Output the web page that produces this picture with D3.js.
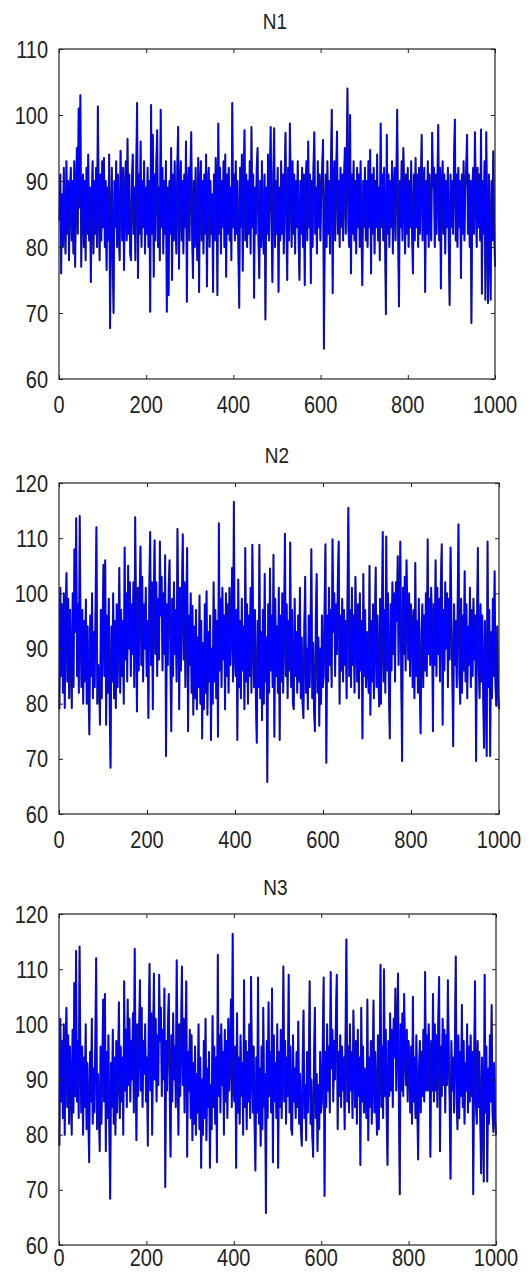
<!DOCTYPE html>
<html>
<head>
<meta charset="utf-8">
<script src="https://cdn.jsdelivr.net/npm/d3@7"></script>
<style>
  body { margin: 0; background: #fff; }
  text { font-family: "Liberation Sans", Arial, Helvetica, sans-serif; fill: #222; }
</style>
</head>
<body>
<svg id="chart" width="531" height="1279"></svg>
<script>
// values, one every two samples (500 per series)
const n1 = [
  84,91,76,88,80,92,83,79,93,82,90,78,88,92,81,90,79,93,77,88,95,82,101,86,103,
  77,88,91,80,90,78,92,82,94,81,89,74.7,87,93,79,90,82,92,80,101.3,88,78,91,81,93,
  83,93.5,80,90,76.5,89,81,94,67.7,82,92,79,70,90,83,93,80,91,82,78,94.6,88,81,92,76.5,
  88,93,81,96.4,82,91,79,78,90,94,82,89,78,92,101.8,75.3,91,82,96,80,90,83,93,79,89,
  82,92,80,90,70.2,101.5,82,97,75.5,91,81,93,97.7,80,89,78,100.8,83,92,79,90,82,93,70.2,89,
  72.7,90,82,95,75,91,81,93,83,79,92,98.2,76.7,89,93,81,90,79,91,83,96,71.7,89,92,81,
  91,97.4,82,75.3,90,80,92,83,78,93.5,73.2,89,93,81,90,79,91,82,94,74,89,92,80,90,82,
  88,73.2,91,81,93.5,89,72.7,98.7,82,92,79,90,83,93,80,94,75.5,91,82,92,81,89,78,101.8,83,
  91,81,93,82,90,79,70.8,92,83,94,76.4,89,97.7,81,91,80,90,82,93,79,98.2,83,91,72.3,89,
  82,92,95,81,75.3,90,80,93,83,79,91,69,89,82,94,81,90,98.2,83,74.7,91,98,80,90,82,
  92,73.2,89,81,93,82,91,79,90,97.3,83,75,92,81,98.7,89,80,93,82,91,79,90,83,93,81,
  75,90,82,92,80,91,74.2,89,93,81,96,83,91,74.5,90,80,92,97.4,82,89,79,93,83,91,81,
  89,92,96.2,64.6,83,91,80,93,82,90,79,92,100.8,73,89,93,81,91,97.5,82,90,80,92,83,91,
  81,90,95,82,92,104,83,80,100,76,91,82,93,81,90,79,92,83,91,80,93,82,74.2,90,83,
  92,81,90,80,93,83,94.7,76,91,82,92,79,90,83,94,81,89,78,98.7,83,91,81,92,82,69.8,
  97,82,91,80,90,83,93,79,89,92,81,91,100.8,82,71,90,83,93,81,95,89,79,91,82,92,
  80,90,83,93,82,76,91,81,93.5,83,91,80,92,82,90,97,81,89,92,73.2,90,82,93,80,91,
  83,81,97.3,89,92,80,91,82,90,98.5,81,92,73.7,89,93,82,91,79,90,83,92,81,71.2,91,83,
  90,82,93,99.3,81,91,80,92,83,90,75.3,91,82,93,81,89,92,97,82,91,80,90,68.5,89,92,
  82,97.4,89,80,92,83,91,81,97.8,72.9,90,82,93,72,97.4,83,71.5,91,82,72,90,81,94.5,83,77
]

const n2 = [
  79,101,85,98,82,100,79.2,96,103.7,84,99,81,97,87,79.2,100,83,108,93,113.6,85,98,82,114,94,
  83,97,80,95,84,98.9,80,94,82,74.4,96,85,100,81,93,83,98,112,80,87,84,76.2,97,81,94,
  105.2,85,106,76.2,96,82,99,80,68.4,94,84,100,81,95,79.2,98,83,93,104.6,82,97,85,95,80,108.3,
  88,100,84,105,90,102,85,98,89,102,83,113.8,95,78.6,101,86,99,108.5,87,103,84,98,90,101,85,
  95,77.4,101,111.1,87,102,79,98,109.6,89,102,85,99,88,109.4,96,103,86,100,89,106.9,70.5,98,87,101,
  106,87,75,99,85,102,89,97,84,111.7,95,79,101,86,99,110.7,88,102,83,98,108.2,75,96,87,100,
  82,97.7,78,94,81,97,79,92,83,99.6,80,95,73.7,91,79,98,82,100.4,78,93,84,96,73.4,90,80,
  102,84,97,81,95,74,112.7,86,99,83,101,88,96,79,100,85,98,82,101,87,95,104.6,84,116.6,89,
  85,97,73.4,102.5,83,95,81,99,86,94,79,108.2,84,98,80,96,85,101,82,108.8,92,83,97,81,72.9,
  95,83,108.8,81,93,77,97,80,103.5,84,92,65.8,98,82,104.5,86,96,83,107,74,99,85,94,82,101,
  73.4,96,84,100,82,94,110.8,85,98,81,95,86,109.2,83,97,80,79,99,85,93,82,96,84,101,81,
  92,80,77.4,94,103,82,90,79,96,83,93,108,81,91,79,75,95,103.5,82,92,76,90,80,96,83,
  85,98,108.9,69.3,96,84,101,87,97,83,109.8,93,100,85,98,89,102,109.4,80,96,86,99,84,97,87,
  95,81,99,115.5,85,97,83,101,87,96,82,103,94,84,98,81,100,86,95,73.7,103.5,85,97,83,93,
  87,82,105,78,95,84,98,81,93,104.7,83,96,85,79.5,99,80,94,111.1,84,97,82,110.3,86,100,83,
  73.7,98,86,102,89,100,84,102,95,106.7,87,99,109.4,85,69.6,101,89,103,86,106,96,88,100,85,98,
  94,83,97,81,105.5,85,95,82,99,84,74.6,93,98,83,96,86,100,85,109.8,89,99,87,101,95,75,
  98,87,106,85,101,89,99,84,102,108.9,76.2,97,86,102,90,100,83,99,88,108.3,96,85,72.3,98,87,
  95,83,97,112.5,85,80,99,82,96,86,104,84,98,81,94,87,101,83,97,85,99,88,96,69.6,94,
  108.2,87,81,98,84,96,82,72,95,85,70.5,109.4,83,97,70.5,93,81,99,85,104,83,79.6,94,82,79
]

const n3 = [
  78,101,86,97,83,100,80,95,103,85,98,82,96,88,80,99,84,107.5,87,113.3,86,97,83,114.1,93,
  84,96,80,94,85,100,81,93,83,75,95,86,101,82,92,84,97,112,81,91,85,77,96,82,93,
  104.5,86,105.5,77,95,83,98,81,68.4,93,85,99,82,94,80,97,84,92,104,83,96,86,94,80,107.8,
  88,99,85,104.5,89,101,86,97,90,102,84,113.7,94,79,100,87,98,108,88,103,85,97,91,100,86,
  94,78,100,111,88,102,80,97,109.2,90,101,86,98,89,109,97,103,87,99,90,106.5,70.5,97,88,100,
  105.5,88,76,98,86,102,90,96,85,111.6,94,80,100,87,98,110.5,89,101,84,97,107.8,76,95,88,99,
  83,98,79,93,82,96,80,91,84,100,81,94,74,90,80,97,83,101,79,92,85,95,74,89,81,
  101.5,85,96,82,94,75,112.6,87,98,84,100,89,95,80,99,86,97,83,101,88,94,104.5,85,116.4,88,
  86,96,74,102,84,94,82,98,87,93,80,108,85,97,81,95,86,100,83,108.6,93,84,96,82,73.5,
  94,84,108.5,82,92,78,96,81,103,85,91,65.8,97,83,104,87,95,84,106.5,75,98,86,93,83,100,
  74,95,85,99,83,93,110.5,86,97,82,94,87,109,84,96,81,80,98,86,92,83,95,85,100.5,82,
  91,81,78,93,102.5,83,89,79,95,84,92,107.8,82,90,80,76,94,103,83,91,77,89,81,95,84,
  86,97,108.5,68.9,95,85,100,88,96,84,109.5,92,99,86,97,90,101,109,81,95,87,98,85,96,88,
  94,81,98,115.4,86,96,84,100,88,95,83,102.5,93,85,97,82,99,87,94,74.5,103,86,96,84,92,
  86,83,104.5,79,94,85,97,82,92,104.3,84,95,86,80,98,81,93,110.8,85,96,83,110,87,99,84,
  74.5,97,87,102,88,99,85,101,94,106.5,88,98,109.2,86,69.2,100,88,102,87,105.5,95,89,99,86,97,
  93,84,96,82,105,86,94,83,98,85,75.5,92,97,84,95,87,99,86,109.5,88,98,88,100,94,76,
  97,88,105.5,86,100,88,98,85,101,108.6,77,96,87,101,89,99,84,98,89,108,95,86,72,97,88,
  94,84,96,112.3,86,81,98,83,95,87,103.5,85,97,82,93,88,100,84,96,86,98,87,95,69.2,93,
  107.8,86,82,97,85,95,83,73,94,86,71.5,109,84,96,71.5,92,82,98,86,103.5,84,80.5,93,83,80
]

const titles = ["N1", "N2", "N3"]
const xTicks = [0, 200, 400, 600, 800, 1000]
const yTicks1 = [60, 70, 80, 90, 100, 110]
const yTicks23 = [60, 70, 80, 90, 100, 110, 120]

// panel boxes in page pixels
const panels = [
  { title: titles[0], values: n1, yTicks: yTicks1, left: 59, right: 495, top: 49, bottom: 379, xLabelY: 413, titleY: 29 },
  { title: titles[1], values: n2, yTicks: yTicks23, left: 59, right: 499, top: 483, bottom: 814, xLabelY: 848, titleY: 463 },
  { title: titles[2], values: n3, yTicks: yTicks23, left: 59, right: 496, top: 914, bottom: 1245, xLabelY: 1266, titleY: 895 }
]

const svg = d3.select("#chart")
const fontSize = 20
const stretch = 1.2

panels.forEach((p) => {
  const x = d3.scaleLinear().domain([0, 1000]).range([p.left, p.right])
  const y = d3.scaleLinear().domain(d3.extent(p.yTicks)).range([p.bottom, p.top])
  // sample number of each stored value
  const sample = d3.scaleLinear().domain([0, p.values.length - 1]).range([1, 1000])

  const g = svg.append("g")

  const line = d3.line()
    .x((d, i) => x(sample(i)))
    .y((d) => y(d))

  // dark edge under the blue trace, the jpeg look of the original
  g.append("path")
    .datum(p.values)
    .attr("fill", "none")
    .attr("stroke", "#1c1c78")
    .attr("stroke-width", 2)
    .attr("stroke-linejoin", "round")
    .attr("d", line)

  g.append("path")
    .datum(p.values)
    .attr("fill", "none")
    .attr("stroke", "#0000ff")
    .attr("stroke-width", 1.2)
    .attr("stroke-linejoin", "round")
    .attr("d", line)

  // inward ticks on all four sides, like a boxed matlab axes
  const axes = [
    [d3.axisBottom(x).tickValues(xTicks), `translate(0,${p.bottom})`],
    [d3.axisTop(x).tickValues(xTicks), `translate(0,${p.top})`],
    [d3.axisLeft(y).tickValues(p.yTicks), `translate(${p.left},0)`],
    [d3.axisRight(y).tickValues(p.yTicks), `translate(${p.right},0)`]
  ]
  axes.forEach(([ax, tr]) => {
    g.append("g")
      .attr("transform", tr)
      .call(ax.tickSize(-4).tickSizeOuter(0).tickFormat(""))
      .call((s) => s.select(".domain").remove())
      .selectAll("line")
      .attr("stroke", "#222")
  })

  g.append("rect")
    .attr("x", p.left)
    .attr("y", p.top)
    .attr("width", p.right - p.left)
    .attr("height", p.bottom - p.top)
    .attr("fill", "none")
    .attr("stroke", "#222")
    .attr("stroke-width", 1.2)

  g.selectAll(".xl")
    .data(xTicks)
    .join("text")
    .attr("class", "xl")
    .attr("transform", (d) => `translate(${x(d)},${p.xLabelY}) scale(1,${stretch})`)
    .attr("text-anchor", "middle")
    .attr("font-size", fontSize)
    .text((d) => d)

  g.selectAll(".yl")
    .data(p.yTicks)
    .join("text")
    .attr("class", "yl")
    .attr("transform", (d) => `translate(48,${y(d) + 8.5}) scale(1,${stretch})`)
    .attr("text-anchor", "end")
    .attr("font-size", fontSize)
    .text((d) => d)

  g.append("text")
    .attr("transform", `translate(${(p.left + p.right) / 2 - 2},${p.titleY}) scale(1,1.12)`)
    .attr("text-anchor", "middle")
    .attr("font-size", 19)
    .text(p.title)
})
</script>
</body>
</html>
